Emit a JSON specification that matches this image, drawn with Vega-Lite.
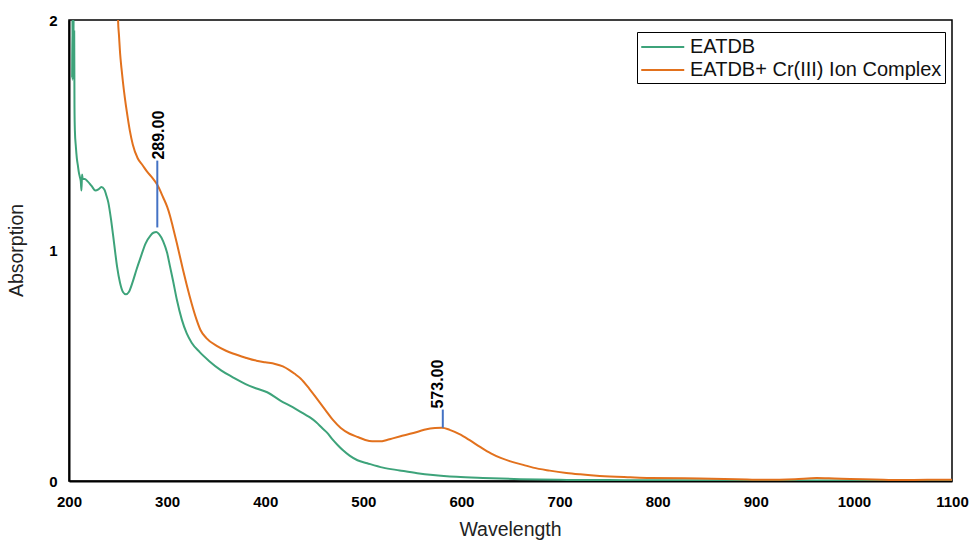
{
  "$schema": "https://vega.github.io/schema/vega-lite/v6.json",
  "width": 883,
  "height": 461,
  "autosize": {"type": "none"},
  "padding": {"left": 69, "top": 20, "right": 19, "bottom": 59},
  "background": "white",
  "config": {
    "font": "Liberation Sans",
    "view": {"stroke": "black", "strokeWidth": 1.5},
    "axis": {"domainColor": "black", "domainWidth": 2, "grid": false, "ticks": false, "labelColor": "black", "labelFontWeight": "bold", "labelFontSize": 15, "labelOverlap": false, "labelFlush": false, "titleFontWeight": "normal", "titleFontSize": 19.5, "titleColor": "#222222", "titleBaseline": "alphabetic"}
  },
  "datasets": {
    "spectra": [
      {"series": "EATDB", "wl": 203.2, "abs": 1.75},
      {"series": "EATDB", "wl": 203.5, "abs": 2.0},
      {"series": "EATDB", "wl": 203.8, "abs": 1.74},
      {"series": "EATDB", "wl": 204.1, "abs": 2.0},
      {"series": "EATDB", "wl": 204.4, "abs": 1.76},
      {"series": "EATDB", "wl": 204.7, "abs": 2.0},
      {"series": "EATDB", "wl": 205.0, "abs": 1.74},
      {"series": "EATDB", "wl": 205.3, "abs": 1.95},
      {"series": "EATDB", "wl": 205.6, "abs": 1.62},
      {"series": "EATDB", "wl": 206, "abs": 1.52},
      {"series": "EATDB", "wl": 207, "abs": 1.45},
      {"series": "EATDB", "wl": 208, "abs": 1.40},
      {"series": "EATDB", "wl": 209, "abs": 1.37},
      {"series": "EATDB", "wl": 210, "abs": 1.34},
      {"series": "EATDB", "wl": 211, "abs": 1.32},
      {"series": "EATDB", "wl": 212, "abs": 1.30},
      {"series": "EATDB", "wl": 212.7, "abs": 1.26},
      {"series": "EATDB", "wl": 213.3, "abs": 1.33},
      {"series": "EATDB", "wl": 214, "abs": 1.31},
      {"series": "EATDB", "wl": 216, "abs": 1.31},
      {"series": "EATDB", "wl": 219, "abs": 1.30},
      {"series": "EATDB", "wl": 223, "abs": 1.28},
      {"series": "EATDB", "wl": 227, "abs": 1.26},
      {"series": "EATDB", "wl": 230, "abs": 1.265},
      {"series": "EATDB", "wl": 233, "abs": 1.275},
      {"series": "EATDB", "wl": 236, "abs": 1.265},
      {"series": "EATDB", "wl": 238, "abs": 1.24},
      {"series": "EATDB", "wl": 240, "abs": 1.21},
      {"series": "EATDB", "wl": 243, "abs": 1.13},
      {"series": "EATDB", "wl": 246, "abs": 1.03},
      {"series": "EATDB", "wl": 249, "abs": 0.93},
      {"series": "EATDB", "wl": 252, "abs": 0.86},
      {"series": "EATDB", "wl": 255, "abs": 0.82},
      {"series": "EATDB", "wl": 258, "abs": 0.81},
      {"series": "EATDB", "wl": 261, "abs": 0.82},
      {"series": "EATDB", "wl": 265, "abs": 0.865},
      {"series": "EATDB", "wl": 269, "abs": 0.92},
      {"series": "EATDB", "wl": 273, "abs": 0.97},
      {"series": "EATDB", "wl": 278, "abs": 1.03},
      {"series": "EATDB", "wl": 283, "abs": 1.065},
      {"series": "EATDB", "wl": 286, "abs": 1.077},
      {"series": "EATDB", "wl": 289, "abs": 1.08},
      {"series": "EATDB", "wl": 292, "abs": 1.07},
      {"series": "EATDB", "wl": 296, "abs": 1.04},
      {"series": "EATDB", "wl": 300, "abs": 0.99},
      {"series": "EATDB", "wl": 303, "abs": 0.93},
      {"series": "EATDB", "wl": 306, "abs": 0.87},
      {"series": "EATDB", "wl": 310, "abs": 0.785},
      {"series": "EATDB", "wl": 315, "abs": 0.70},
      {"series": "EATDB", "wl": 320, "abs": 0.64},
      {"series": "EATDB", "wl": 325, "abs": 0.60},
      {"series": "EATDB", "wl": 333, "abs": 0.56},
      {"series": "EATDB", "wl": 343, "abs": 0.52},
      {"series": "EATDB", "wl": 355, "abs": 0.48},
      {"series": "EATDB", "wl": 367, "abs": 0.45},
      {"series": "EATDB", "wl": 380, "abs": 0.42},
      {"series": "EATDB", "wl": 392, "abs": 0.40},
      {"series": "EATDB", "wl": 402, "abs": 0.385},
      {"series": "EATDB", "wl": 415, "abs": 0.35},
      {"series": "EATDB", "wl": 428, "abs": 0.32},
      {"series": "EATDB", "wl": 440, "abs": 0.29},
      {"series": "EATDB", "wl": 446, "abs": 0.275},
      {"series": "EATDB", "wl": 452, "abs": 0.255},
      {"series": "EATDB", "wl": 458, "abs": 0.23},
      {"series": "EATDB", "wl": 463, "abs": 0.21},
      {"series": "EATDB", "wl": 469, "abs": 0.178},
      {"series": "EATDB", "wl": 474, "abs": 0.155},
      {"series": "EATDB", "wl": 479, "abs": 0.134},
      {"series": "EATDB", "wl": 486, "abs": 0.11},
      {"series": "EATDB", "wl": 494, "abs": 0.09},
      {"series": "EATDB", "wl": 504, "abs": 0.077},
      {"series": "EATDB", "wl": 520, "abs": 0.058},
      {"series": "EATDB", "wl": 537, "abs": 0.046},
      {"series": "EATDB", "wl": 555, "abs": 0.034},
      {"series": "EATDB", "wl": 571, "abs": 0.026},
      {"series": "EATDB", "wl": 595, "abs": 0.018},
      {"series": "EATDB", "wl": 622, "abs": 0.013},
      {"series": "EATDB", "wl": 660, "abs": 0.008},
      {"series": "EATDB", "wl": 700, "abs": 0.005},
      {"series": "EATDB", "wl": 750, "abs": 0.004},
      {"series": "EATDB", "wl": 800, "abs": 0.003},
      {"series": "EATDB", "wl": 900, "abs": 0.002},
      {"series": "EATDB", "wl": 1000, "abs": 0.002},
      {"series": "EATDB", "wl": 1100, "abs": 0.002},
      {"series": "EATDB+ Cr(III) Ion Complex", "wl": 249, "abs": 2.3},
      {"series": "EATDB+ Cr(III) Ion Complex", "wl": 250, "abs": 2.0},
      {"series": "EATDB+ Cr(III) Ion Complex", "wl": 251, "abs": 1.93},
      {"series": "EATDB+ Cr(III) Ion Complex", "wl": 252, "abs": 1.86},
      {"series": "EATDB+ Cr(III) Ion Complex", "wl": 253.5, "abs": 1.79},
      {"series": "EATDB+ Cr(III) Ion Complex", "wl": 255, "abs": 1.73},
      {"series": "EATDB+ Cr(III) Ion Complex", "wl": 257, "abs": 1.66},
      {"series": "EATDB+ Cr(III) Ion Complex", "wl": 259, "abs": 1.60},
      {"series": "EATDB+ Cr(III) Ion Complex", "wl": 262, "abs": 1.52},
      {"series": "EATDB+ Cr(III) Ion Complex", "wl": 265, "abs": 1.46},
      {"series": "EATDB+ Cr(III) Ion Complex", "wl": 270, "abs": 1.40},
      {"series": "EATDB+ Cr(III) Ion Complex", "wl": 275, "abs": 1.37},
      {"series": "EATDB+ Cr(III) Ion Complex", "wl": 280, "abs": 1.34},
      {"series": "EATDB+ Cr(III) Ion Complex", "wl": 285, "abs": 1.315},
      {"series": "EATDB+ Cr(III) Ion Complex", "wl": 290, "abs": 1.285},
      {"series": "EATDB+ Cr(III) Ion Complex", "wl": 296, "abs": 1.23},
      {"series": "EATDB+ Cr(III) Ion Complex", "wl": 300, "abs": 1.19},
      {"series": "EATDB+ Cr(III) Ion Complex", "wl": 303, "abs": 1.15},
      {"series": "EATDB+ Cr(III) Ion Complex", "wl": 306, "abs": 1.10},
      {"series": "EATDB+ Cr(III) Ion Complex", "wl": 310, "abs": 1.03},
      {"series": "EATDB+ Cr(III) Ion Complex", "wl": 313, "abs": 0.975},
      {"series": "EATDB+ Cr(III) Ion Complex", "wl": 316, "abs": 0.92},
      {"series": "EATDB+ Cr(III) Ion Complex", "wl": 320, "abs": 0.85},
      {"series": "EATDB+ Cr(III) Ion Complex", "wl": 325, "abs": 0.77},
      {"series": "EATDB+ Cr(III) Ion Complex", "wl": 330, "abs": 0.70},
      {"series": "EATDB+ Cr(III) Ion Complex", "wl": 334, "abs": 0.655},
      {"series": "EATDB+ Cr(III) Ion Complex", "wl": 340, "abs": 0.62},
      {"series": "EATDB+ Cr(III) Ion Complex", "wl": 351, "abs": 0.585},
      {"series": "EATDB+ Cr(III) Ion Complex", "wl": 360, "abs": 0.565},
      {"series": "EATDB+ Cr(III) Ion Complex", "wl": 367, "abs": 0.553},
      {"series": "EATDB+ Cr(III) Ion Complex", "wl": 380, "abs": 0.535},
      {"series": "EATDB+ Cr(III) Ion Complex", "wl": 391, "abs": 0.522},
      {"series": "EATDB+ Cr(III) Ion Complex", "wl": 400, "abs": 0.515},
      {"series": "EATDB+ Cr(III) Ion Complex", "wl": 410, "abs": 0.508},
      {"series": "EATDB+ Cr(III) Ion Complex", "wl": 418, "abs": 0.497},
      {"series": "EATDB+ Cr(III) Ion Complex", "wl": 425, "abs": 0.48},
      {"series": "EATDB+ Cr(III) Ion Complex", "wl": 430, "abs": 0.465},
      {"series": "EATDB+ Cr(III) Ion Complex", "wl": 436, "abs": 0.445},
      {"series": "EATDB+ Cr(III) Ion Complex", "wl": 445, "abs": 0.40},
      {"series": "EATDB+ Cr(III) Ion Complex", "wl": 453, "abs": 0.355},
      {"series": "EATDB+ Cr(III) Ion Complex", "wl": 461, "abs": 0.31},
      {"series": "EATDB+ Cr(III) Ion Complex", "wl": 469, "abs": 0.265},
      {"series": "EATDB+ Cr(III) Ion Complex", "wl": 477, "abs": 0.23},
      {"series": "EATDB+ Cr(III) Ion Complex", "wl": 486, "abs": 0.205},
      {"series": "EATDB+ Cr(III) Ion Complex", "wl": 495, "abs": 0.19},
      {"series": "EATDB+ Cr(III) Ion Complex", "wl": 502, "abs": 0.178},
      {"series": "EATDB+ Cr(III) Ion Complex", "wl": 509, "abs": 0.172},
      {"series": "EATDB+ Cr(III) Ion Complex", "wl": 517, "abs": 0.172},
      {"series": "EATDB+ Cr(III) Ion Complex", "wl": 524, "abs": 0.178},
      {"series": "EATDB+ Cr(III) Ion Complex", "wl": 530, "abs": 0.185},
      {"series": "EATDB+ Cr(III) Ion Complex", "wl": 537, "abs": 0.193},
      {"series": "EATDB+ Cr(III) Ion Complex", "wl": 551, "abs": 0.208},
      {"series": "EATDB+ Cr(III) Ion Complex", "wl": 562, "abs": 0.222},
      {"series": "EATDB+ Cr(III) Ion Complex", "wl": 573, "abs": 0.23},
      {"series": "EATDB+ Cr(III) Ion Complex", "wl": 580, "abs": 0.231},
      {"series": "EATDB+ Cr(III) Ion Complex", "wl": 588, "abs": 0.222},
      {"series": "EATDB+ Cr(III) Ion Complex", "wl": 598, "abs": 0.203},
      {"series": "EATDB+ Cr(III) Ion Complex", "wl": 608, "abs": 0.178},
      {"series": "EATDB+ Cr(III) Ion Complex", "wl": 619, "abs": 0.148},
      {"series": "EATDB+ Cr(III) Ion Complex", "wl": 630, "abs": 0.12},
      {"series": "EATDB+ Cr(III) Ion Complex", "wl": 640, "abs": 0.10},
      {"series": "EATDB+ Cr(III) Ion Complex", "wl": 650, "abs": 0.085},
      {"series": "EATDB+ Cr(III) Ion Complex", "wl": 663, "abs": 0.07},
      {"series": "EATDB+ Cr(III) Ion Complex", "wl": 673, "abs": 0.058},
      {"series": "EATDB+ Cr(III) Ion Complex", "wl": 690, "abs": 0.045},
      {"series": "EATDB+ Cr(III) Ion Complex", "wl": 707, "abs": 0.035},
      {"series": "EATDB+ Cr(III) Ion Complex", "wl": 721, "abs": 0.029},
      {"series": "EATDB+ Cr(III) Ion Complex", "wl": 741, "abs": 0.022},
      {"series": "EATDB+ Cr(III) Ion Complex", "wl": 772, "abs": 0.016},
      {"series": "EATDB+ Cr(III) Ion Complex", "wl": 792, "abs": 0.013},
      {"series": "EATDB+ Cr(III) Ion Complex", "wl": 843, "abs": 0.011},
      {"series": "EATDB+ Cr(III) Ion Complex", "wl": 880, "abs": 0.008},
      {"series": "EATDB+ Cr(III) Ion Complex", "wl": 911, "abs": 0.005},
      {"series": "EATDB+ Cr(III) Ion Complex", "wl": 940, "abs": 0.008},
      {"series": "EATDB+ Cr(III) Ion Complex", "wl": 962, "abs": 0.013},
      {"series": "EATDB+ Cr(III) Ion Complex", "wl": 980, "abs": 0.011},
      {"series": "EATDB+ Cr(III) Ion Complex", "wl": 996, "abs": 0.009},
      {"series": "EATDB+ Cr(III) Ion Complex", "wl": 1020, "abs": 0.007},
      {"series": "EATDB+ Cr(III) Ion Complex", "wl": 1047, "abs": 0.004},
      {"series": "EATDB+ Cr(III) Ion Complex", "wl": 1075, "abs": 0.005},
      {"series": "EATDB+ Cr(III) Ion Complex", "wl": 1100, "abs": 0.005}
    ],
    "peaks": [
      {"wl": 290, "low": 1.10, "high": 1.39, "textwl": 291.5, "label": "289.00"},
      {"wl": 581, "low": 0.231, "high": 0.31, "textwl": 576, "label": "573.00"}
    ]
  },
  "layer": [
    {
      "data": {"name": "spectra"},
      "mark": {"type": "line", "strokeWidth": 2, "clip": true, "interpolate": "monotone"},
      "encoding": {
        "x": {"field": "wl", "type": "quantitative", "scale": {"domain": [200, 1100], "nice": false},
          "axis": {"values": [200, 300, 400, 500, 600, 700, 800, 900, 1000, 1100], "format": "d", "labelPadding": 13, "title": "Wavelength", "titleY": 54, "titleX": 441}},
        "y": {"field": "abs", "type": "quantitative", "scale": {"domain": [0, 2], "nice": false},
          "axis": {"values": [0, 0.5, 1, 1.5, 2], "labelExpr": "datum.value == 1 ? '1' : datum.value == 2 ? '2' : datum.value == 0 ? '0' : ''", "labelPadding": 12, "title": "Absorption", "titleX": -47, "titleY": 230, "titleAngle": 270}},
        "color": {"field": "series", "type": "nominal",
          "scale": {"domain": ["EATDB", "EATDB+ Cr(III) Ion Complex"], "range": ["#3DA37A", "#E2711D"]},
          "legend": {"title": null, "orient": "none", "legendX": 568, "legendY": 12, "symbolType": "M-1,0H3", "symbolSize": 462, "symbolStrokeWidth": 2, "labelFontSize": 20, "labelLimit": 0, "labelFont": "Liberation Sans", "labelColor": "#111111", "strokeColor": "black", "padding": 3, "rowPadding": 1, "labelOffset": 26, "fillColor": "white"}}
      }
    },
    {
      "data": {"name": "peaks"},
      "mark": {"type": "rule", "color": "#4472C4", "strokeWidth": 2},
      "encoding": {
        "x": {"field": "wl", "type": "quantitative"},
        "y": {"field": "low", "type": "quantitative"},
        "y2": {"field": "high"}
      }
    },
    {
      "data": {"name": "peaks"},
      "mark": {"type": "text", "angle": 270, "align": "left", "baseline": "middle", "fontWeight": "bold", "fontSize": 16, "color": "black", "dx": 1},
      "encoding": {
        "x": {"field": "textwl", "type": "quantitative"},
        "y": {"field": "high", "type": "quantitative"},
        "text": {"field": "label"}
      }
    }
  ]
}
